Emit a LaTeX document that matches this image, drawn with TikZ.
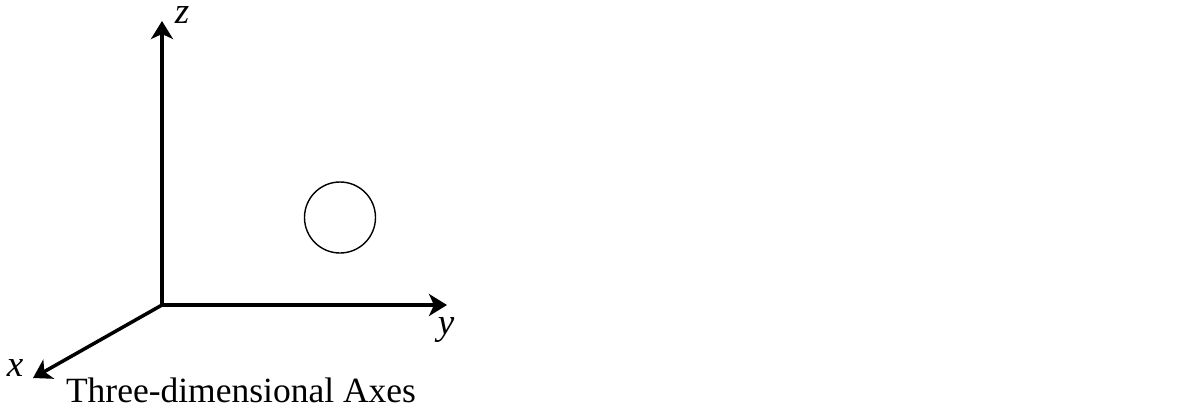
\documentclass[tikz,border=0pt]{standalone}
\usepackage{fontspec}
\setmainfont{Liberation Serif}
\usetikzlibrary{arrows.meta}
\begin{document}
\begin{tikzpicture}[x=1pt,y=-1pt,
  axis/.style={line width=3.5pt,-{Stealth[length=18pt,width=22pt,inset=5pt]}},
  lab/.style={font=\fontsize{37}{42}\selectfont\itshape,inner sep=0pt,text height=0.46em}]
\useasboundingbox (0,0) rectangle (1200,408);
\coordinate (o) at (162,305);
\coordinate (zt) at (162,21);
\coordinate (yt) at (447,305);
\coordinate (xt) at (33,378);
\draw[axis] (o) -- (zt);
\draw[axis] (o) -- (yt);
\draw[axis] (o) -- (xt);
\node[lab,anchor=base] (zl) at (182,23) {z};
\node[lab,anchor=base] (yl) at (446,334) {y};
\node[lab,anchor=base] (xl) at (15,376) {x};
\node[draw,circle,line width=1.4pt,minimum size=71pt,inner sep=0pt] (c) at (340,217.5) {};
\node[font=\fontsize{35.5}{40}\selectfont,inner sep=0pt,anchor=base] (t) at (241,402) {Three-dimensional Axes};
\end{tikzpicture}
\end{document}
